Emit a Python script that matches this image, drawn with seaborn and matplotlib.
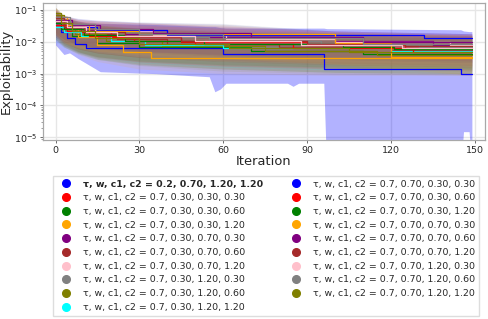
import numpy as np
import pandas as pd
import matplotlib
matplotlib.use("Agg")
import matplotlib.pyplot as plt
from matplotlib.lines import Line2D
import seaborn as sns

# === data ===
PARAMS = [
    "0.2, 0.70, 1.20, 1.20",
    "0.7, 0.30, 0.30, 0.30", "0.7, 0.30, 0.30, 0.60", "0.7, 0.30, 0.30, 1.20",
    "0.7, 0.30, 0.70, 0.30", "0.7, 0.30, 0.70, 0.60", "0.7, 0.30, 0.70, 1.20",
    "0.7, 0.30, 1.20, 0.30", "0.7, 0.30, 1.20, 0.60", "0.7, 0.30, 1.20, 1.20",
    "0.7, 0.70, 0.30, 0.30", "0.7, 0.70, 0.30, 0.60", "0.7, 0.70, 0.30, 1.20",
    "0.7, 0.70, 0.70, 0.30", "0.7, 0.70, 0.70, 0.60", "0.7, 0.70, 0.70, 1.20",
    "0.7, 0.70, 1.20, 0.30", "0.7, 0.70, 1.20, 0.60", "0.7, 0.70, 1.20, 1.20",
]
COLORS = ["blue", "red", "green", "orange", "purple", "brown", "pink", "gray", "olive", "cyan"]
LAST_ITER = 149

# median exploitability: iterations where it changes, and the new value
MED_ITERS = [
    [0, 2, 4, 7, 11, 60, 96, 145],
    [0, 3, 8, 20, 45, 90, 125],
    [0, 2, 6, 15, 30, 70, 110],
    [0, 3, 8, 15, 24, 34],
    [0, 4, 10, 25, 50, 100, 135],
    [0, 3, 9, 22, 40, 80, 120],
    [0, 5, 14, 35, 61, 100, 141],
    [0, 4, 12, 30, 55, 95, 130],
    [0, 3, 7, 18, 38, 75, 115],
    [0, 3, 9, 20, 32, 60, 120],
    [0, 5, 15, 40, 132],
    [0, 4, 12, 28, 50, 85, 128],
    [0, 3, 10, 25, 53, 103, 121],
    [0, 4, 12, 30, 100, 120],
    [0, 6, 16, 35, 70, 110],
    [0, 3, 10, 25, 45, 90, 125],
    [0, 4, 11, 22, 50, 88, 124],
    [0, 5, 14, 30, 60, 110],
    [0, 2, 6, 14, 30, 62, 105],
]
MED_VALS = [
    [0.035, 0.021, 0.013, 0.0085, 0.0062, 0.0043, 0.00136, 0.00097],
    [0.045, 0.030, 0.020, 0.014, 0.010, 0.0078, 0.0062],
    [0.040, 0.025, 0.015, 0.0095, 0.0068, 0.0052, 0.0043],
    [0.050, 0.025, 0.0145, 0.0079, 0.0049, 0.0030],
    [0.060, 0.035, 0.024, 0.018, 0.014, 0.0105, 0.0082],
    [0.045, 0.028, 0.018, 0.012, 0.0085, 0.0068, 0.0055],
    [0.055, 0.032, 0.022, 0.016, 0.012, 0.0098, 0.0079],
    [0.050, 0.030, 0.020, 0.014, 0.011, 0.0085, 0.0068],
    [0.070, 0.030, 0.018, 0.011, 0.0075, 0.0052, 0.0040],
    [0.030, 0.020, 0.015, 0.011, 0.0078, 0.0062, 0.0050],
    [0.040, 0.030, 0.024, 0.0164, 0.0129],
    [0.035, 0.022, 0.015, 0.011, 0.0083, 0.0062, 0.0049],
    [0.040, 0.025, 0.016, 0.011, 0.0085, 0.0068, 0.0058],
    [0.060, 0.035, 0.022, 0.0176, 0.0095, 0.0034],
    [0.050, 0.034, 0.025, 0.019, 0.014, 0.0100],
    [0.055, 0.030, 0.020, 0.014, 0.011, 0.0088, 0.0072],
    [0.045, 0.030, 0.021, 0.015, 0.011, 0.0082, 0.0065],
    [0.060, 0.036, 0.025, 0.018, 0.013, 0.0088],
    [0.080, 0.040, 0.022, 0.013, 0.0085, 0.0062, 0.0047],
]

# spread band (min / max over runs)
BAND_GRID = [0, 3, 8, 15, 30, 60, 100, 149]
BAND_LO = [
    None,
    [0.016, 0.010, 0.006, 0.0045, 0.0032, 0.0024, 0.0019, 0.0016],
    [0.012, 0.007, 0.0042, 0.0028, 0.0019, 0.0014, 0.0011, 0.0010],
    [0.014, 0.007, 0.0040, 0.0024, 0.0014, 0.0010, 0.0009, 0.0009],
    [0.020, 0.012, 0.008, 0.006, 0.0045, 0.0035, 0.0028, 0.0022],
    [0.014, 0.008, 0.0050, 0.0034, 0.0024, 0.0018, 0.0015, 0.0013],
    [0.018, 0.011, 0.007, 0.0052, 0.0038, 0.0029, 0.0024, 0.0020],
    [0.016, 0.010, 0.0062, 0.0045, 0.0032, 0.0025, 0.0020, 0.0017],
    [0.016, 0.008, 0.0045, 0.0028, 0.0018, 0.0012, 0.0010, 0.0009],
    [0.010, 0.0065, 0.0045, 0.0032, 0.0022, 0.0016, 0.0013, 0.0012],
    [0.014, 0.010, 0.008, 0.0065, 0.0050, 0.0040, 0.0034, 0.0030],
    [0.011, 0.0068, 0.0045, 0.0032, 0.0023, 0.0017, 0.0014, 0.0012],
    [0.012, 0.0075, 0.0048, 0.0034, 0.0025, 0.0019, 0.0016, 0.0014],
    [0.018, 0.010, 0.0065, 0.0050, 0.0040, 0.0030, 0.0020, 0.0009],
    [0.018, 0.012, 0.0085, 0.0065, 0.0050, 0.0038, 0.0030, 0.0025],
    [0.016, 0.009, 0.0060, 0.0044, 0.0033, 0.0026, 0.0021, 0.0018],
    [0.015, 0.0095, 0.0064, 0.0047, 0.0034, 0.0025, 0.0020, 0.0017],
    [0.020, 0.012, 0.0085, 0.0063, 0.0048, 0.0036, 0.0028, 0.0023],
    [0.018, 0.009, 0.0050, 0.0030, 0.0020, 0.0014, 0.0011, 0.0010],
]
BAND_HI = [
    None,
    [0.10, 0.060, 0.045, 0.040, 0.034, 0.026, 0.019, 0.016],
    [0.09, 0.050, 0.035, 0.028, 0.022, 0.018, 0.015, 0.013],
    [0.11, 0.055, 0.040, 0.030, 0.020, 0.016, 0.013, 0.012],
    [0.12, 0.065, 0.050, 0.045, 0.040, 0.030, 0.022, 0.018],
    [0.10, 0.055, 0.040, 0.032, 0.026, 0.021, 0.017, 0.015],
    [0.11, 0.065, 0.050, 0.044, 0.038, 0.030, 0.021, 0.017],
    [0.10, 0.060, 0.045, 0.040, 0.034, 0.028, 0.020, 0.016],
    [0.12, 0.060, 0.042, 0.032, 0.024, 0.018, 0.015, 0.013],
    [0.07, 0.045, 0.035, 0.030, 0.024, 0.019, 0.016, 0.014],
    [0.09, 0.065, 0.055, 0.048, 0.042, 0.036, 0.022, 0.018],
    [0.08, 0.050, 0.038, 0.032, 0.026, 0.021, 0.017, 0.015],
    [0.09, 0.055, 0.040, 0.034, 0.028, 0.023, 0.019, 0.016],
    [0.12, 0.068, 0.050, 0.045, 0.040, 0.035, 0.021, 0.016],
    [0.10, 0.065, 0.052, 0.046, 0.040, 0.032, 0.022, 0.018],
    [0.11, 0.060, 0.045, 0.038, 0.032, 0.027, 0.020, 0.017],
    [0.10, 0.060, 0.046, 0.040, 0.033, 0.027, 0.020, 0.017],
    [0.12, 0.068, 0.054, 0.048, 0.042, 0.038, 0.022, 0.018],
    [0.12, 0.065, 0.045, 0.034, 0.026, 0.020, 0.016, 0.014],
]
# the first (best) setting has a much wider band
BEST_BAND_ITERS = [0, 3, 5, 8, 11, 16, 36, 55, 57, 59, 61, 83, 85, 87, 96, 97, 145, 146, 148, 149]
BEST_BAND_LO = [0.008, 0.004, 0.0045, 0.003, 0.0021, 0.00115, 0.001, 0.0008, 0.00027, 0.00033,
                0.0005, 0.0005, 0.0004, 0.0005, 0.0005, 1e-6, 1e-6, 1.5e-5, 1.5e-5, 1e-6]
BEST_BAND_HI = [0.09, 0.06, 0.05, 0.045, 0.04, 0.038, 0.035, 0.03, 0.03, 0.028,
                0.027, 0.027, 0.027, 0.027, 0.027, 0.026, 0.024, 0.022, 0.021, 0.021]

# === style ===
sns.set_theme(style="whitegrid")
plt.rcParams['font.family'] = ['DejaVu Sans']
plt.rcParams['axes.edgecolor'] = '#a8a8a8'
plt.rcParams['grid.color'] = '#e6e6e6'

labels = [f"τ, w, c1, c2 = {p}" for p in PARAMS]
colors = [COLORS[i % len(COLORS)] for i in range(len(PARAMS))]

# long table of the step points
rows = []
for i, (its, vals) in enumerate(zip(MED_ITERS, MED_VALS)):
    for it, v in zip(its + [LAST_ITER], vals + [vals[-1]]):
        rows.append({"Iteration": it, "Exploitability": v, "setting": labels[i]})
df = pd.DataFrame(rows)

fig = plt.figure(figsize=(4.88, 3.19), dpi=100)
ax = fig.add_axes([0.0881, 0.5611, 0.9058, 0.4304])

for i in range(len(PARAMS)):
    if i == 0:
        bx, lo, hi = BEST_BAND_ITERS, BEST_BAND_LO, BEST_BAND_HI
    else:
        bx, lo, hi = BAND_GRID, BAND_LO[i], BAND_HI[i]
    ax.fill_between(bx, lo, hi, color=colors[i], alpha=0.3 if i == 0 else 0.1, lw=0)

sns.lineplot(data=df, x="Iteration", y="Exploitability", hue="setting",
             palette=dict(zip(labels, colors)), drawstyle="steps-post",
             estimator=None, lw=0.9, legend=False, ax=ax)

ax.set_yscale("log")
ax.set_ylim(8.2e-6, 0.17)
ax.set_xlim(-4.5, 153.7)
ax.set_xticks([0, 30, 60, 90, 120, 150])
ax.set_xlabel("Iteration", fontsize=9.4, labelpad=0)
ax.set_ylabel("Exploitability", fontsize=9.4, labelpad=1)
ax.tick_params(axis="both", labelsize=6.8, pad=1.5)
ax.tick_params(axis="y", which="both", left=True, color="#555555")
ax.tick_params(axis="y", which="major", length=2.5, width=0.6)
ax.tick_params(axis="y", which="minor", length=1.5, width=0.4)
ax.tick_params(axis="x", bottom=True, length=2.5, width=0.6, color="#555555")
ax.grid(True, which="major")
for s in ax.spines.values():
    s.set_linewidth(0.9)

handles = [Line2D([], [], marker="o", linestyle="", color=c, markersize=5.5) for c in colors]
leg = fig.legend(handles, labels, ncol=2, loc="upper left", bbox_to_anchor=(53 / 488, 1 - 176 / 319),
                 borderaxespad=0, fontsize=6.73, labelspacing=0.5, handletextpad=0.8,
                 columnspacing=2.5, handlelength=2.0, borderpad=0.4, fancybox=False,
                 framealpha=1, edgecolor="#dddddd")
leg.get_texts()[0].set_fontweight("bold")

fig.savefig("out.png", dpi=100)
